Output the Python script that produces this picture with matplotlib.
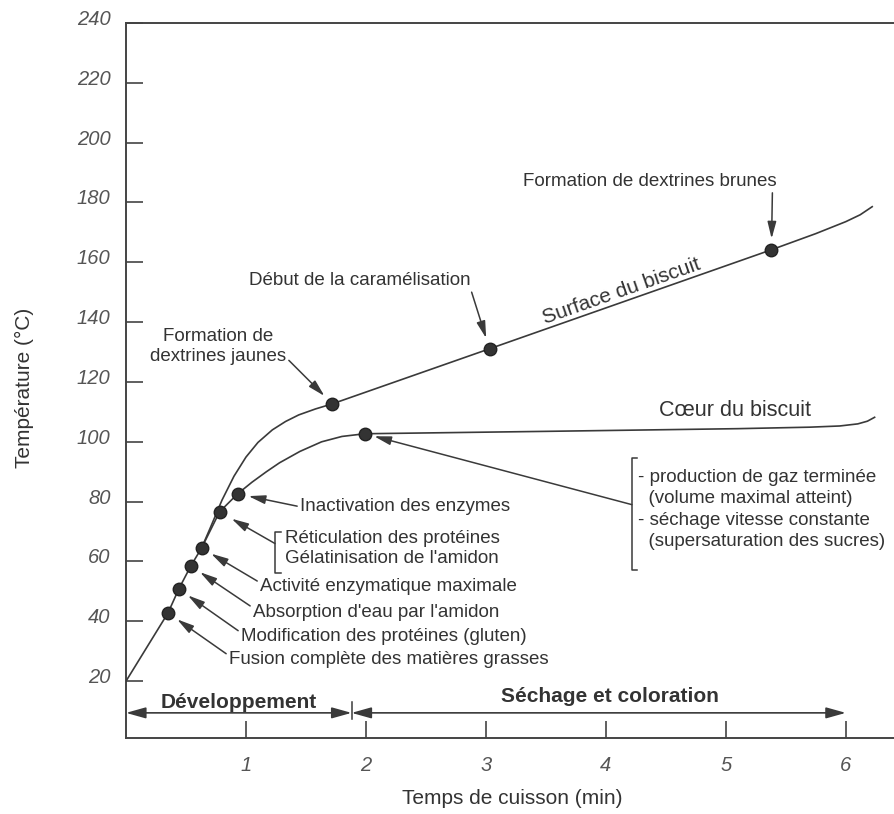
import matplotlib
matplotlib.use("Agg")
import matplotlib.pyplot as plt
from matplotlib.transforms import ScaledTranslation
from matplotlib.lines import Line2D
import numpy as np

# ---------------- data ----------------
surface_t = [0.0, 0.35, 0.44, 0.54, 0.63, 0.70, 0.80, 0.90, 1.00, 1.10, 1.22,
             1.33, 1.44, 1.58, 1.72, 3.03, 5.38, 5.75, 6.00, 6.12, 6.22]
surface_T = [20.0, 42.8, 50.8, 58.5, 64.5, 71.0, 80.5, 88.5, 94.9, 99.8, 104.0,
             106.8, 109.0, 111.0, 112.7, 131.1, 164.2, 169.6, 173.6, 175.9, 178.6]

core_t = [0.63, 0.78, 0.93, 1.05, 1.17, 1.28, 1.45, 1.63, 1.80, 1.99, 3.50,
          5.10, 5.70, 5.95, 6.10, 6.18, 6.24]
core_T = [64.5, 76.6, 82.6, 86.5, 90.0, 93.0, 96.8, 100.0, 101.8, 102.7, 103.5,
          104.4, 104.9, 105.3, 106.0, 106.9, 108.2]

event_t = [0.35, 0.44, 0.54, 0.63, 0.78, 0.93, 1.72, 1.99, 3.03, 5.38]
event_T = [42.8, 50.8, 58.5, 64.5, 76.6, 82.6, 112.7, 102.7, 131.1, 164.2]
event_labels = [
    "Fusion complète des matières grasses",
    "Modification des protéines (gluten)",
    "Absorption d'eau par l'amidon",
    "Activité enzymatique maximale",
    "Réticulation des protéines\nGélatinisation de l'amidon",
    "Inactivation des enzymes",
    "Formation de\ndextrines jaunes",
    "- production de gaz terminée\n  (volume maximal atteint)\n- séchage vitesse constante\n  (supersaturation des sucres)",
    "Début de la caramélisation",
    "Formation de dextrines brunes",
]

phase_labels = ["Développement", "Séchage et coloration"]
phase_start = [0.0, 1.88]
phase_end = [1.88, 6.0]

x_ticks = [1, 2, 3, 4, 5, 6]
y_ticks = [20, 40, 60, 80, 100, 120, 140, 160, 180, 200, 220, 240]

curve_labels = ["Surface du biscuit", "Cœur du biscuit"]
x_label = "Temps de cuisson (min)"
y_label = "Température (°C)"

# ---------------- styling ----------------
plt.rcParams['font.family'] = ['Liberation Sans', 'DejaVu Sans']
TXT = "#333333"
LINE = "#3a3a3a"
FS = 13.5

fig = plt.figure(figsize=(8.95, 8.14), dpi=100)
ax = fig.add_axes([126/895, 76/814, 769/895, 715/814])
ax.set_xlim(0, 6.41)
ax.set_ylim(1, 240)

ax.spines['right'].set_visible(False)
for s in ['left', 'top', 'bottom']:
    ax.spines[s].set_linewidth(1.4)
    ax.spines[s].set_color("#444444")

ax.set_xticks(x_ticks)
ax.set_yticks(y_ticks)
ax.tick_params(direction='in', length=12, width=1.2, color="#444444",
               labelcolor="#555555", labelsize=14.5)
ax.tick_params(axis='y', pad=11)
ax.tick_params(axis='x', pad=13)
for lab in ax.get_yticklabels() + ax.get_xticklabels():
    lab.set_fontstyle('italic')
for lab in ax.get_yticklabels():
    lab.set_transform(lab.get_transform() + ScaledTranslation(0, 4/72, fig.dpi_scale_trans))

ax.set_xlabel(x_label, fontsize=15, color=TXT)
ax.set_ylabel(y_label, fontsize=15, color=TXT)
ax.xaxis.set_label_coords(0.502, -0.072)
ax.yaxis.set_label_coords(-0.12, 0.49)

# curves
ax.plot(surface_t, surface_T, color=LINE, lw=1.2, zorder=3)
ax.plot(core_t, core_T, color=LINE, lw=1.2, zorder=3)
ax.plot(event_t, event_T, 'o', ms=9, color="#333333", mec="#222222", zorder=5)

# curve labels
p1 = ax.transData.transform((event_t[8], event_T[8]))
p2 = ax.transData.transform((event_t[9], event_T[9]))
ang = np.degrees(np.arctan2(p2[1]-p1[1], p2[0]-p1[0]))
ax.text(4.13, 150.3, curve_labels[0], rotation=ang, rotation_mode='anchor',
        ha='center', va='center', fontsize=15, color=TXT)
ax.text(5.08, 110.6, curve_labels[1], ha='center', va='center', fontsize=15.5, color=TXT)

arrow_kw = dict(arrowstyle="-|>,head_length=0.85,head_width=0.22", mutation_scale=12,
                color=LINE, lw=1.1, shrinkA=0, shrinkB=8)

# annotation layout: (text x, text y, ha, relpos)
layout = [
    (0.858, 27.1, 'left', (0.0, 0.75)),
    (0.958, 34.8, 'left', (0.0, 0.75)),
    (1.058, 43.1, 'left', (0.0, 0.75)),
    (1.117, 51.5, 'left', (0.0, 0.75)),
    None,
    (1.45, 78.3, 'left', (0.0, 0.5)),
    (0.767, 131.9, 'center', (1.0, 0.2)),
    None,
    (1.95, 153.8, 'center', (1.0, 0.0)),
    (5.42, 187.0, 'right', (0.985, 0.0)),
]
for i, lay in enumerate(layout):
    if lay is None:
        continue
    tx, ty, ha, rp = lay
    kw = dict(arrow_kw)
    kw['relpos'] = rp
    ax.annotate(event_labels[i], xy=(event_t[i], event_T[i]), xytext=(tx, ty),
                textcoords='data', ha=ha, va='center', fontsize=FS, color=TXT,
                linespacing=1.25, arrowprops=kw, zorder=6)

# bracket annotation: Réticulation / Gélatinisation
ax.text(1.325, 64.4, event_labels[4], ha='left', va='center', fontsize=FS,
        color=TXT, linespacing=1.25)
ax.add_line(Line2D([1.29, 1.242, 1.242, 1.29], [69.9, 69.9, 56.2, 56.2],
                   color=LINE, lw=1.1))
kw = dict(arrow_kw); kw['shrinkB'] = 10
ax.annotate('', xy=(event_t[4], event_T[4]), xytext=(1.242, 66.0),
            textcoords='data', arrowprops=kw)

# bracket annotation: gaz
ax.text(4.267, 77.4, event_labels[7], ha='left', va='center', fontsize=FS,
        color=TXT, linespacing=1.32)
ax.add_line(Line2D([4.26, 4.217, 4.217, 4.26], [94.5, 94.5, 57.0, 57.0],
                   color=LINE, lw=1.1))
kw = dict(arrow_kw); kw['shrinkB'] = 7
ax.annotate('', xy=(event_t[7], event_T[7]), xytext=(4.217, 79.0),
            textcoords='data', arrowprops=kw)

# phases
arr_y = 9.4
for lab, a, b in zip(phase_labels, phase_start, phase_end):
    ax.annotate('', xy=(b, arr_y), xytext=(a, arr_y), textcoords='data',
                arrowprops=dict(arrowstyle="<|-|>,head_length=1.0,head_width=0.28",
                                mutation_scale=12, color=LINE, lw=1.2,
                                shrinkA=0, shrinkB=0))
ax.plot([phase_end[0], phase_end[0]], [7.4, 12.9], color=LINE, lw=1.1)
ax.text(0.942, 13.0, phase_labels[0], ha='center', va='center', fontsize=15,
        fontweight='bold', color=TXT)
ax.text(4.03, 15.0, phase_labels[1], ha='center', va='center', fontsize=15,
        fontweight='bold', color=TXT)

fig.savefig("out.png", dpi=100, facecolor='white')
